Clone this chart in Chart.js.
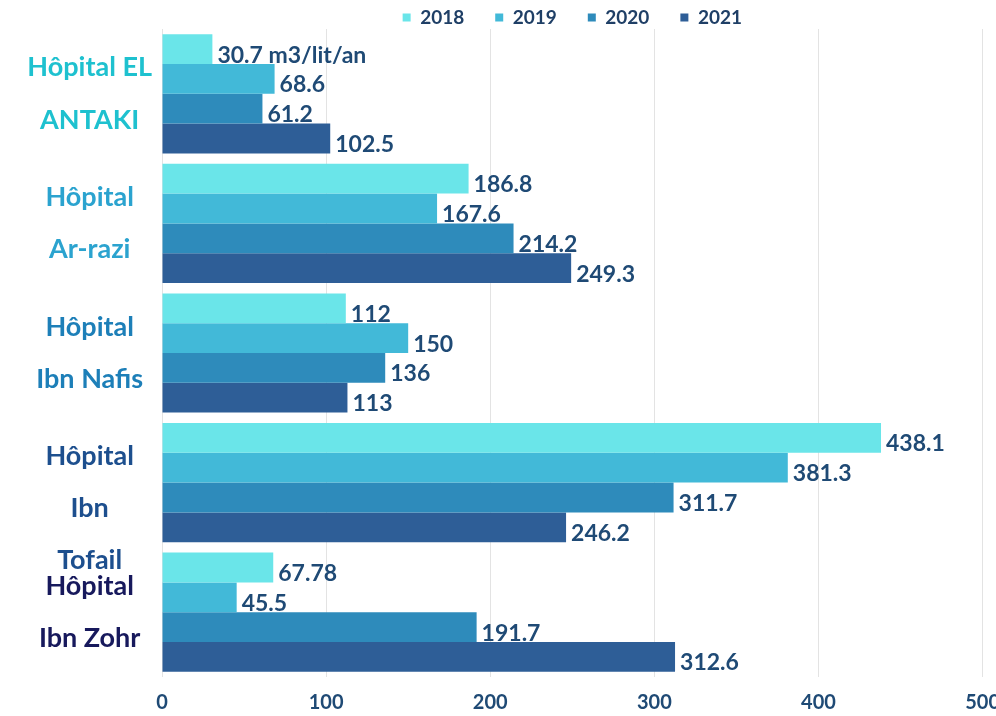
<!DOCTYPE html>
<html>
<head>
<meta charset="utf-8">
<script src="https://cdn.jsdelivr.net/npm/chart.js@4"></script>
<style>
html,body{margin:0;padding:0;background:#fff;overflow:hidden;}
#wrap{width:1016px;height:716px;position:relative;}
</style>
</head>
<body>
<div id="wrap"><canvas id="c"></canvas></div>
<script>
const categories = [
  ["Hôpital EL", "ANTAKI"],
  ["Hôpital", "Ar-razi"],
  ["Hôpital", "Ibn Nafis"],
  ["", "Hôpital", "Ibn", "Tofail"],
  ["Hôpital", "Ibn Zohr"]
];
const categoryColors = ["#1ec1cf", "#2ba3cf", "#1d7fb8", "#1d4f8e", "#17195c"];
const years = ["2018", "2019", "2020", "2021"];
const values2018 = [30.7, 186.8, 112, 438.1, 67.78];
const values2019 = [68.6, 167.6, 150, 381.3, 45.5];
const values2020 = [61.2, 214.2, 136, 311.7, 191.7];
const values2021 = [102.5, 249.3, 113, 246.2, 312.6];
const labels2018 = ["30.7 m3/lit/an", "186.8", "112", "438.1", "67.78"];
const labels2019 = ["68.6", "167.6", "150", "381.3", "45.5"];
const labels2020 = ["61.2", "214.2", "136", "311.7", "191.7"];
const labels2021 = ["102.5", "249.3", "113", "246.2", "312.6"];
const xTicks = [0, 100, 200, 300, 400, 500];
const seriesColors = ["#6ae5e9", "#42b9d8", "#2e8bbb", "#2e5e97"];

const FONT = "Lato, 'Open Sans', sans-serif";
const seriesValues = [values2018, values2019, values2020, values2021];
const seriesLabels = [labels2018, labels2019, labels2020, labels2021];

const dataLabelPlugin = {
  id: 'dataLabels',
  afterDatasetsDraw(chart) {
    const ctx = chart.ctx;
    ctx.save();
    ctx.font = "bold 23px " + FONT;
    ctx.fillStyle = "#1f4a75";
    ctx.textAlign = "left";
    ctx.textBaseline = "middle";
    chart.data.datasets.forEach((ds, di) => {
      const meta = chart.getDatasetMeta(di);
      meta.data.forEach((bar, i) => {
        ctx.fillText(seriesLabels[di][i], bar.x + 5, bar.y + 6);
      });
    });
    ctx.restore();
  }
};

const legendFitPlugin = {
  id: 'legendFit',
  beforeLayout(chart) {
    const lg = chart.legend;
    if (lg && !lg._patched) {
      const orig = lg.fit;
      lg.fit = function () { orig.call(this); this.height = 52; };
      lg._patched = true;
    }
  }
};

new Chart(document.getElementById('c'), {
  type: 'bar',
  data: {
    labels: categories,
    datasets: years.map((y, i) => ({
      label: y,
      data: seriesValues[i],
      backgroundColor: seriesColors[i],
      borderWidth: 0,
      barPercentage: 1.0,
      categoryPercentage: 0.92
    }))
  },
  options: {
    indexAxis: 'y',
    responsive: true,
    maintainAspectRatio: false,
    animation: false,
    layout: { padding: { top: -23, right: 0, bottom: -13, left: 0 } },
    plugins: {
      legend: {
        position: 'top',
        fullSize: false,
        labels: {
          boxWidth: 8,
          boxHeight: 8,
          padding: 31,
          color: "#1f3f66",
          font: { family: FONT, size: 19, weight: 'bold' }
        }
      },
      tooltip: { enabled: false }
    },
    scales: {
      x: {
        min: 0,
        max: 500,
        afterBuildTicks(scale) { scale.ticks = xTicks.map(v => ({ value: v })); },
        grid: { color: "#e3e3e3", drawTicks: false },
        border: { display: false },
        ticks: {
          color: "#1f4a75",
          padding: 16,
          font: { family: FONT, size: 20, weight: 'bold', lineHeight: 1 }
        }
      },
      y: {
        grid: { display: false, drawTicks: false },
        border: { display: false },
        afterFit(scale) {
          scale.width = 162;
          scale.paddingTop = 0;
          scale.paddingBottom = 0;
        },
        ticks: {
          autoSkip: false,
          crossAlign: 'center',
          padding: 10,
          color: (c) => categoryColors[c.index],
          font: { family: FONT, size: 27, weight: 'bold', lineHeight: 1.93 }
        }
      }
    }
  },
  plugins: [dataLabelPlugin, legendFitPlugin]
});
</script>
</body>
</html>
